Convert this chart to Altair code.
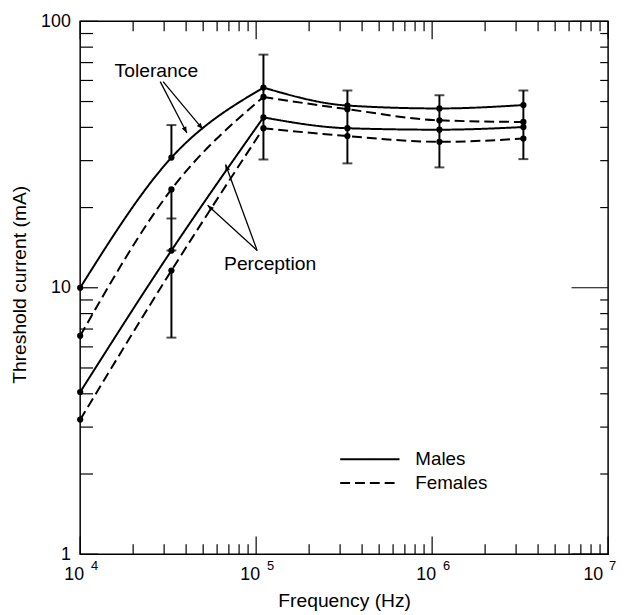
import math
import altair as alt
import pandas as pd

# ---------------- data ----------------
freq = [1e4, 3.3e4, 1.1e5, 3.3e5, 1.1e6, 3.3e6]
tol_m = [10.0, 30.8, 56.4, 48.3, 47.1, 48.5]
tol_f = [6.6, 23.4, 52.0, 46.8, 42.5, 41.9]
per_m = [4.06, 13.8, 43.6, 39.7, 39.2, 40.1]
per_f = [3.2, 11.6, 39.7, 37.1, 35.3, 36.3]

err_x = [3.3e4, 3.3e4, 3.3e4, 1.1e5, 3.3e5, 1.1e6, 3.3e6]
err_lo = [31.0, 13.8, 6.5, 30.3, 29.3, 28.3, 30.4]
err_hi = [40.8, 23.3, 11.6, 75.0, 55.0, 52.8, 55.0]
cap_x = [3.3e4, 3.3e4, 3.3e4, 3.3e4, 1.1e5, 1.1e5, 3.3e5, 3.3e5, 1.1e6, 1.1e6, 3.3e6, 3.3e6]
cap_y = [40.8, 18.2, 13.8, 6.5, 30.3, 75.0, 29.3, 55.0, 28.3, 52.8, 30.4, 55.0]

x_major = [1e4, 1e5, 1e6, 1e7]
x_base = ["10", "10", "10", "10"]
x_exp = ["4", "5", "6", "7"]
x_minor = [m * 10 ** e for e in (4, 5, 6) for m in range(2, 10)]
y_major = [1, 10, 100]
y_minor = [m * 10 ** e for e in (0, 1) for m in range(2, 10)]

labels_txt = ["Tolerance", "Perception"]
labels_x = [2.71e4, 1.2e5]
labels_y = [64.9, 12.3]

arrow_x1 = [2.85e4, 2.96e4, 1.013e5, 1.013e5]
arrow_y1 = [59.4, 59.4, 13.8, 13.8]
arrow_x2 = [4.04e4, 4.97e4, 6.7e4, 5.3e4]
arrow_y2 = [38.1, 39.4, 29.0, 20.4]

# ---------------- layout ----------------
W, H = 534, 539
XD, YD = [1e4, 1e7], [1, 100]
FONT = "Liberation Sans"

xs = alt.Scale(type="log", domain=XD, nice=False)
ys = alt.Scale(type="log", domain=YD, nice=False)

x_axis = alt.Axis(title="Frequency (Hz)", labels=False, ticks=False, domain=False, grid=False,
                  titleFontSize=19.5, titleFont=FONT, titleFontWeight="normal", titleColor="black",
                  titleX=W / 2, titleY=47, titleBaseline="middle", titleAlign="center")
y_axis = alt.Axis(title="Threshold current (mA)", values=y_major, format="d", ticks=False,
                  domain=False, grid=False, labelFontSize=18, labelFont=FONT, labelColor="black",
                  labelPadding=10, titleFontSize=19.5, titleFont=FONT, titleFontWeight="normal",
                  titleColor="black", titleX=-61, titleY=266, titleBaseline="middle",
                  titleAlign="center", titleAngle=270)


def X(f):
    return alt.X(f, type="quantitative", scale=xs, axis=x_axis)


def Y(f):
    return alt.Y(f, type="quantitative", scale=ys, axis=y_axis)


series = [("Tolerance", "Males", tol_m), ("Tolerance", "Females", tol_f),
          ("Perception", "Males", per_m), ("Perception", "Females", per_f)]
rows, pts = [], []
for g, s, vals in series:
    for i, (f, v) in enumerate(zip(freq, vals)):
        pts.append(dict(freq=f, current=v))
        if i <= 2:
            rows.append(dict(freq=f, current=v, sex=s, piece=f"{g}-{s}-rise"))
        if i >= 2:
            rows.append(dict(freq=f, current=v, sex=s, piece=f"{g}-{s}-fall"))
lines_df = pd.DataFrame(rows)
pts_df = pd.DataFrame(pts)

lines = alt.Chart(lines_df).mark_line(interpolate="monotone", strokeWidth=2, color="black").encode(
    x=X("freq"), y=Y("current"), detail="piece:N",
    strokeDash=alt.StrokeDash(
        "sex:N",
        scale=alt.Scale(domain=["Males", "Females"], range=[[1, 0], [10, 5]]),
        legend=alt.Legend(title=None, orient="none", legendX=262, legendY=431,
                          symbolType="stroke", symbolSize=3600, symbolStrokeWidth=2,
                          symbolStrokeColor="black", labelFontSize=19, labelFont=FONT,
                          labelColor="black", labelOffset=15, clipHeight=24, rowPadding=0,
                          padding=0)))

points = alt.Chart(pts_df).mark_circle(size=40, color="black", opacity=1).encode(
    x=X("freq"), y=Y("current"))

err_df = pd.DataFrame({"x": err_x, "lo": err_lo, "hi": err_hi})
errs = alt.Chart(err_df).mark_rule(strokeWidth=2, color="black").encode(
    x=X("x"), y=Y("lo"), y2="hi")
caps_df = pd.DataFrame({"x": cap_x, "y": cap_y})
caps = alt.Chart(caps_df).mark_tick(orient="horizontal", size=10, thickness=2, color="black").encode(
    x=X("x"), y=Y("y"))


# ---------------- inward ticks ----------------
def xticks(vals, length):
    d = pd.DataFrame({"v": vals})
    bot = alt.Chart(d).mark_rule(strokeWidth=1.2, color="black").encode(
        x=X("v"), y=alt.value(H), y2=alt.value(H - length))
    top = alt.Chart(d).mark_rule(strokeWidth=1.2, color="black").encode(
        x=X("v"), y=alt.value(0), y2=alt.value(length))
    return [bot, top]


def yticks(vals, llen, rlen):
    d = pd.DataFrame({"v": vals})
    left = alt.Chart(d).mark_rule(strokeWidth=1.2, color="black").encode(
        y=Y("v"), x=alt.value(0), x2=alt.value(llen))
    right = alt.Chart(d).mark_rule(strokeWidth=1.2, color="black").encode(
        y=Y("v"), x=alt.value(W), x2=alt.value(W - rlen))
    return [left, right]


tick_layers = xticks(x_major, 18) + xticks(x_minor, 10) + yticks(y_major, 18, 37) + yticks(y_minor, 13, 8)

# x tick labels "10" with superscript exponent; the last one sits a little further left
xl_df = pd.DataFrame({"v": x_major, "base": x_base, "exp": x_exp})
xl_in = xl_df.iloc[:-1]
xl_end = xl_df.iloc[-1:]


def xlabels(d, dx_base, dx_exp):
    base = alt.Chart(d).mark_text(align="right", dx=dx_base, fontSize=18, font=FONT, color="black",
                                  baseline="alphabetic").encode(
        x=X("v"), y=alt.value(H + 26), text="base:N")
    exp = alt.Chart(d).mark_text(align="left", dx=dx_exp, fontSize=13, font=FONT, color="black",
                                 baseline="alphabetic").encode(
        x=X("v"), y=alt.value(H + 16), text="exp:N")
    return [base, exp]


xlabel_layers = xlabels(xl_in, 4, 11) + xlabels(xl_end, -5, 1)

# ---------------- annotations ----------------
lab_df = pd.DataFrame({"t": labels_txt, "x": labels_x, "y": labels_y})
labs = alt.Chart(lab_df).mark_text(fontSize=19.5, font=FONT, color="black", baseline="middle").encode(
    x=X("x"), y=Y("y"), text="t:N")

px_x = W / math.log10(XD[1] / XD[0])
px_y = H / math.log10(YD[1] / YD[0])
angs = []
for a, b, c, d in zip(arrow_x1, arrow_y1, arrow_x2, arrow_y2):
    dx = px_x * math.log10(c / a)
    dy = -px_y * math.log10(d / b)
    angs.append(math.degrees(math.atan2(dx, -dy)) % 360)
arr_df = pd.DataFrame({"x1": arrow_x1, "y1": arrow_y1, "x2": arrow_x2, "y2": arrow_y2, "ang": angs})
arr_lines = alt.Chart(arr_df).mark_rule(strokeWidth=1.3, color="black").encode(
    x=X("x1"), y=Y("y1"), x2="x2", y2="y2")
arr_heads = alt.Chart(arr_df).mark_point(shape="M0,0L-0.4,1L0.4,1Z", filled=True, size=160,
                                         color="black", opacity=1).encode(
    x=X("x2"), y=Y("y2"), angle=alt.Angle("ang:Q", scale=None))

chart = alt.layer(
    *tick_layers, lines, errs, caps, points, *xlabel_layers, labs, arr_lines, arr_heads
).properties(
    width=W, height=H,
    autosize=alt.AutoSizeParams(type="none"),
    padding={"left": 73, "top": 10, "right": 10, "bottom": 58},
).configure_view(stroke="black", strokeWidth=1.5)

chart.save("out.html", embed_options={"renderer": "svg", "actions": False})
